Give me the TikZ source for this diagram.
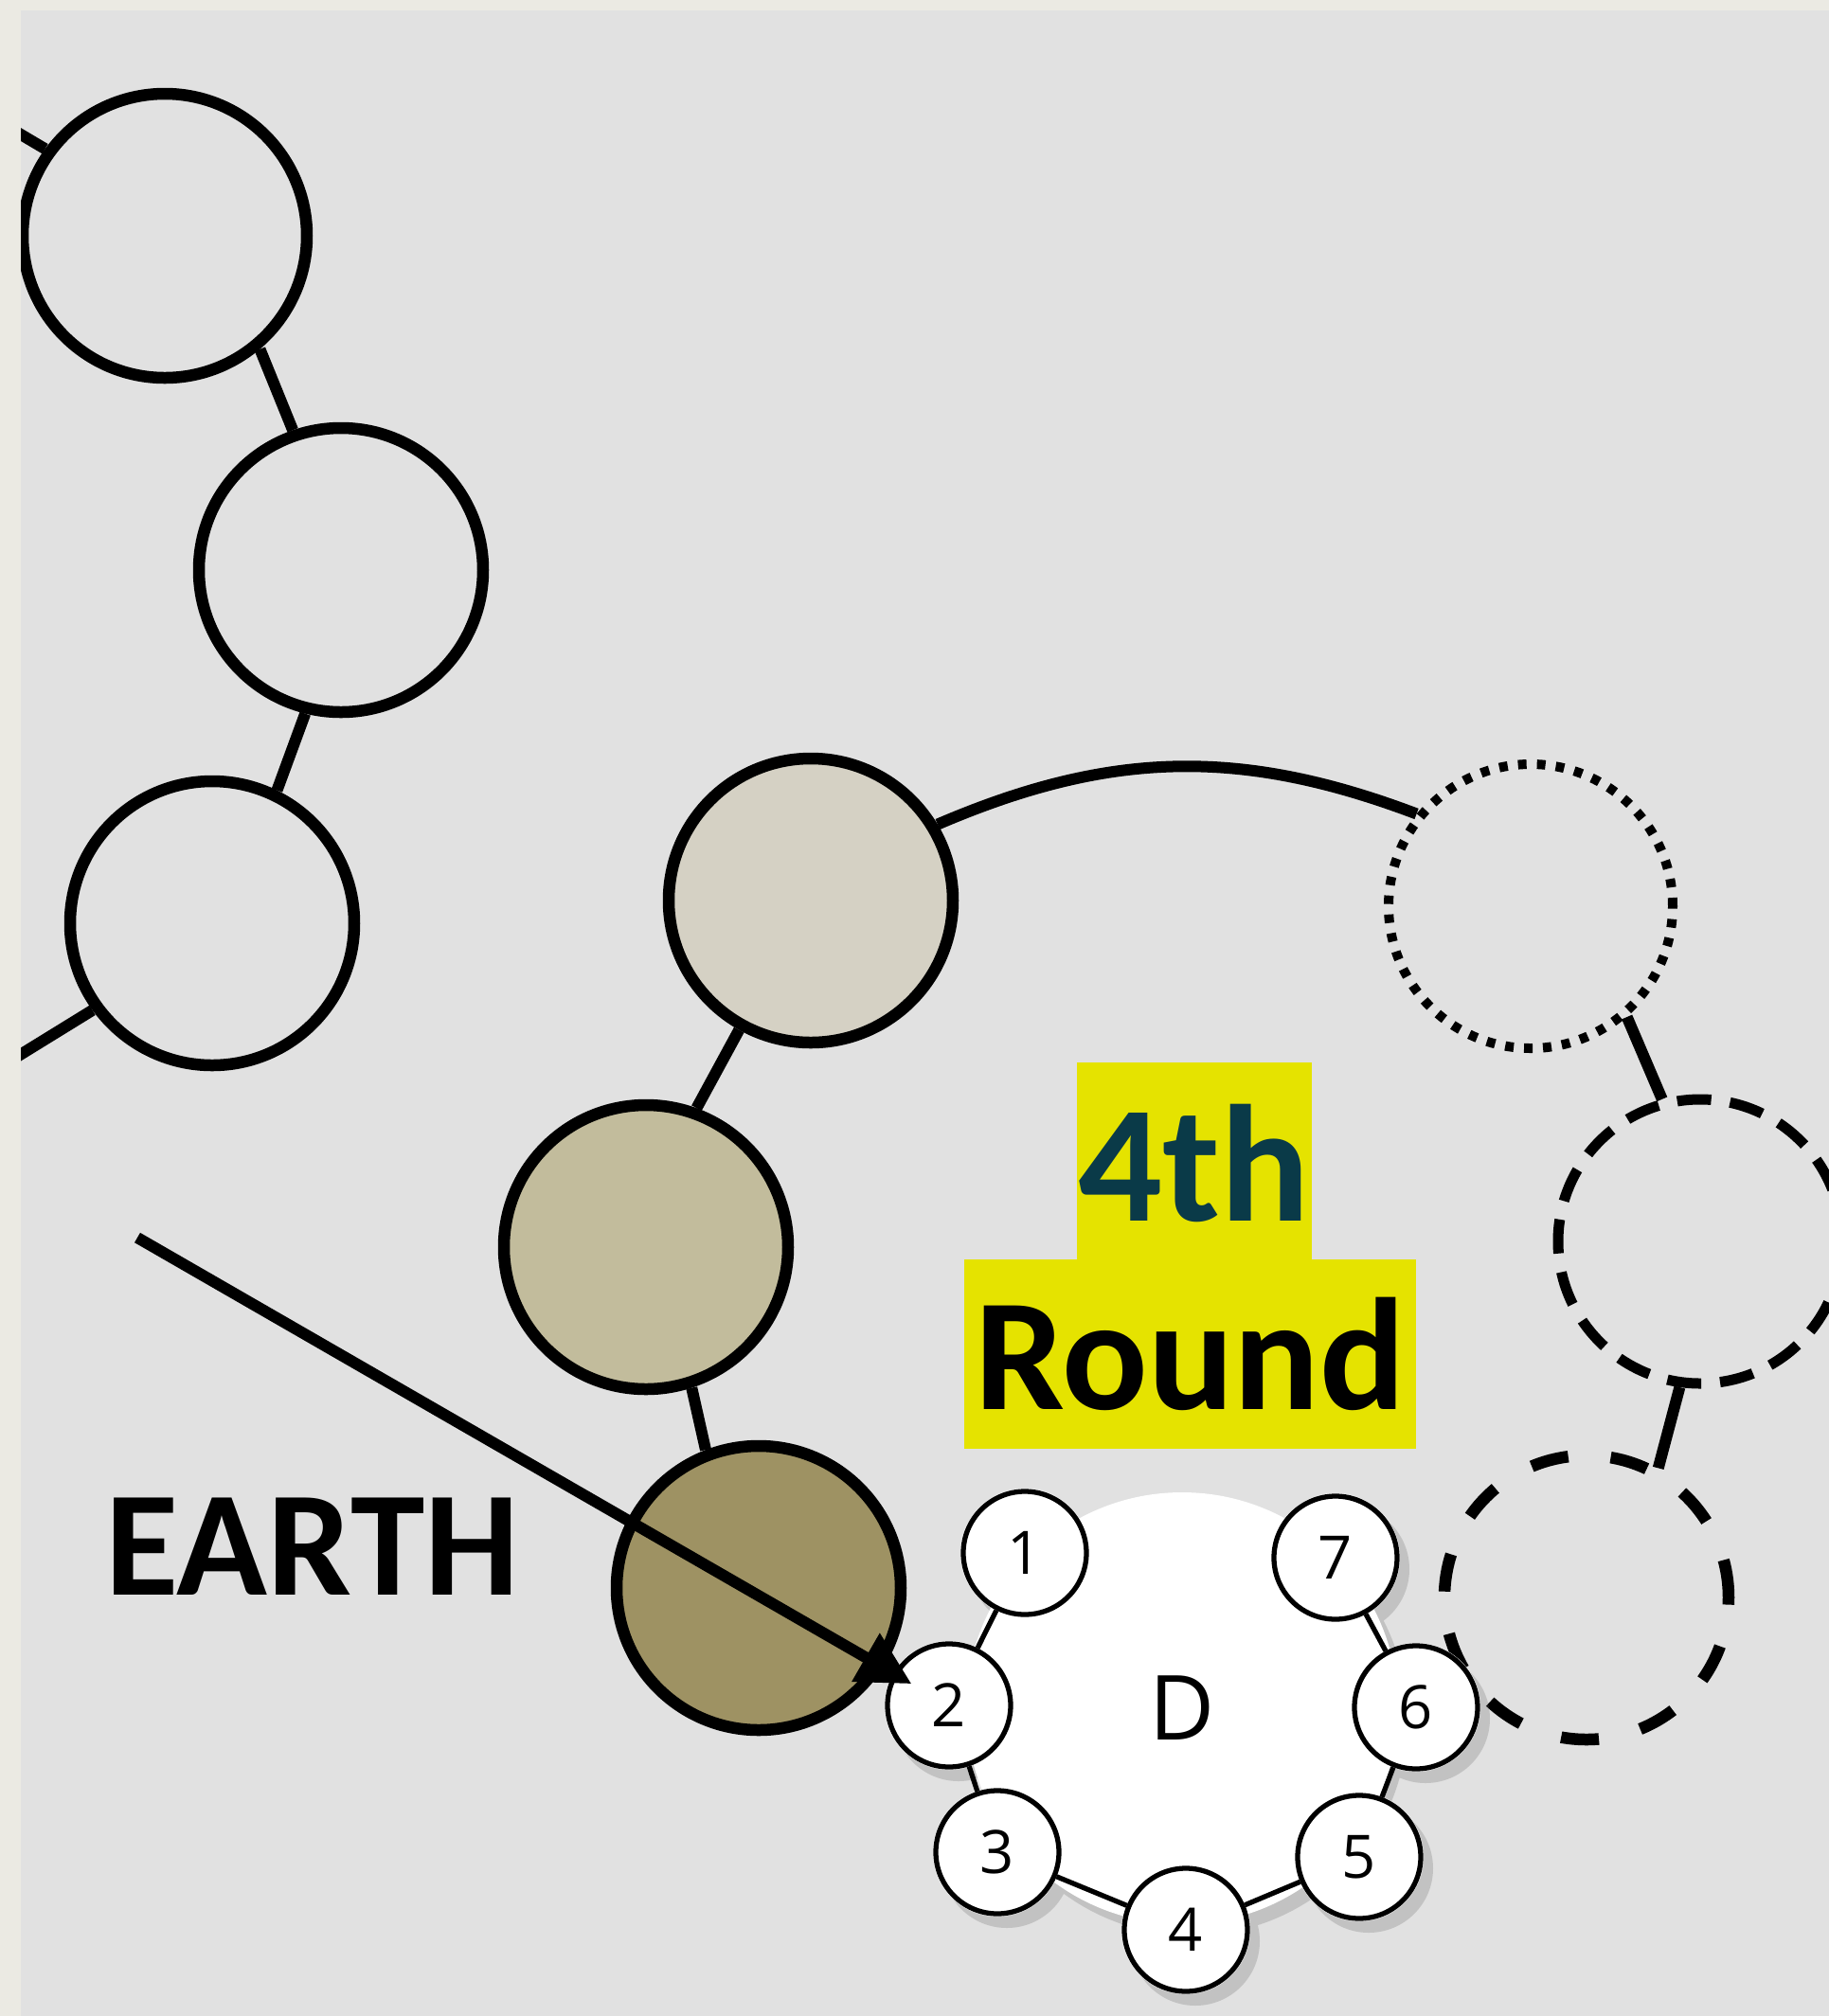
\documentclass[tikz,border=0pt]{standalone}
\usepackage{fontspec}
\usepackage{tikz}
\usetikzlibrary{arrows.meta, shadows}

\newfontfamily\labelfont{Carlito}
\newfontfamily\petalfont{Open Sans}

\definecolor{bggray}{HTML}{E1E1E1}
\definecolor{edgebeige}{HTML}{EBEAE3}
\definecolor{earthlight}{HTML}{D5D1C4}
\definecolor{earthmid}{HTML}{C2BC9C}
\definecolor{earthdark}{HTML}{9E9263}
\definecolor{hlyellow}{RGB}{229,227,0}
\definecolor{tealdark}{RGB}{10,58,72}

\begin{document}
\begin{tikzpicture}[
  ring/.style={draw, circle, minimum size=3cm, inner sep=0pt, line width=0.125cm},
  dotring/.style={ring, line width=0.1cm, dash pattern=on 0.09cm off 0.11cm},
  dashring/.style={ring, line width=0.11cm, dash pattern=on 0.36cm off 0.2cm},
  longdashring/.style={ring, dash pattern=on 0.4cm off 0.45cm},
  link/.style={line width=0.12cm},
  hlbox/.style={fill=hlyellow, inner sep=0pt, font=\labelfont\bfseries\fontsize{48}{52}\selectfont},
  petal/.style={draw, circle, fill=white, minimum size=1.3cm, inner sep=0pt, line width=1.5pt, font=\petalfont\fontsize{18}{20}\selectfont},
  rim/.style={line width=1.5pt},
  arr/.style={-{Triangle[length=0.56cm, width=0.56cm]}, line width=0.12cm}
]
\fill[bggray] (0,0) rectangle (19.31,-21.29);
\useasboundingbox (0,0) rectangle (19.31,-21.29);

% earlier chain
\node[ring] (c1) at (1.74,-2.49) {};
\node[ring] (c2) at (3.60,-6.02) {};
\node[ring] (c3) at (2.24,-9.75) {};
\coordinate (c1end) at (0,-1.29);
\coordinate (c3end) at (0,-11.27);
\draw[link] (c1end) -- (c1.144);
\draw[link] (c1.-50) -- (c2.109);
\draw[link] (c2.-104) -- (c3.64);
\draw[link] (c3.-144) -- (c3end);

% earth globes
\node[ring, fill=earthlight] (b1) at (8.56,-9.51) {};
\node[ring, fill=earthmid] (b2) at (6.82,-13.17) {};
\node[ring, fill=earthdark] (b3) at (8.01,-16.77) {};
\draw[link] (b1.-119) -- (b2.70);
\draw[link] (b2.-72) -- (b3.111);

% coming globes
\node[dotring] (dt) at (16.16,-9.57) {};
\node[dashring] (da) at (17.95,-13.11) {};
\node[longdashring] (db) at (16.75,-16.87) {};
\draw[link] (b1.31) to[bend left=22] (dt.141);
\draw[link] (dt.-49) -- (da.105);
\draw[link] (da.-98) -- (db.61);

% labels
\node[hlbox, minimum width=2.48cm, minimum height=2.12cm, text=tealdark, font=\labelfont\bfseries\fontsize{50}{54}\selectfont] (fourth) at (12.61,-12.28) {4th};
\node[hlbox, minimum width=4.77cm, minimum height=2cm] (roundlbl) at (12.565,-14.30) {Round};
\node[font=\labelfont\bfseries\fontsize{45}{50}\selectfont, inner sep=0pt] (earth) at (3.30,-16.33) {EARTH};

% frame edges
\fill[edgebeige] (0,0) rectangle (0.22,-21.29);
\fill[edgebeige] (0,0) rectangle (19.31,-0.11);

% globe D with its seven
\coordinate (dc) at (12.48,-18.04);
\coordinate (q1) at (10.82,-16.40);
\coordinate (q2) at (10.02,-18.01);
\coordinate (q3) at (10.53,-19.56);
\coordinate (q4) at (12.52,-20.38);
\coordinate (q5) at (14.35,-19.61);
\coordinate (q6) at (14.95,-18.03);
\coordinate (q7) at (14.10,-16.45);
\path[fill=white, drop shadow={shadow xshift=0.1cm, shadow yshift=-0.12cm, opacity=0.25, fill=black!60}]
  (dc) circle (2.28) (q1) circle (0.68) (q2) circle (0.68) (q3) circle (0.68)
  (q4) circle (0.68) (q5) circle (0.68) (q6) circle (0.68) (q7) circle (0.68);
\node[petal] (p1) at (q1) {1};
\node[petal] (p2) at (q2) {2};
\node[petal] (p3) at (q3) {3};
\node[petal] (p4) at (q4) {4};
\node[petal] (p5) at (q5) {5};
\node[petal] (p6) at (q6) {6};
\node[petal] (p7) at (q7) {7};
\draw[rim] (p1) -- (p2);
\draw[rim] (p2) -- (p3);
\draw[rim] (p3) -- (p4);
\draw[rim] (p4) -- (p5);
\draw[rim] (p5) -- (p6);
\draw[rim] (p6) -- (p7);
\node[font=\petalfont\fontsize{27}{30}\selectfont] (dlbl) at (dc) {D};

% pointer
\coordinate (tail) at (1.45,-13.07);
\draw[arr, shorten >=-0.22cm] (tail) -- (p2);
\end{tikzpicture}
\end{document}
